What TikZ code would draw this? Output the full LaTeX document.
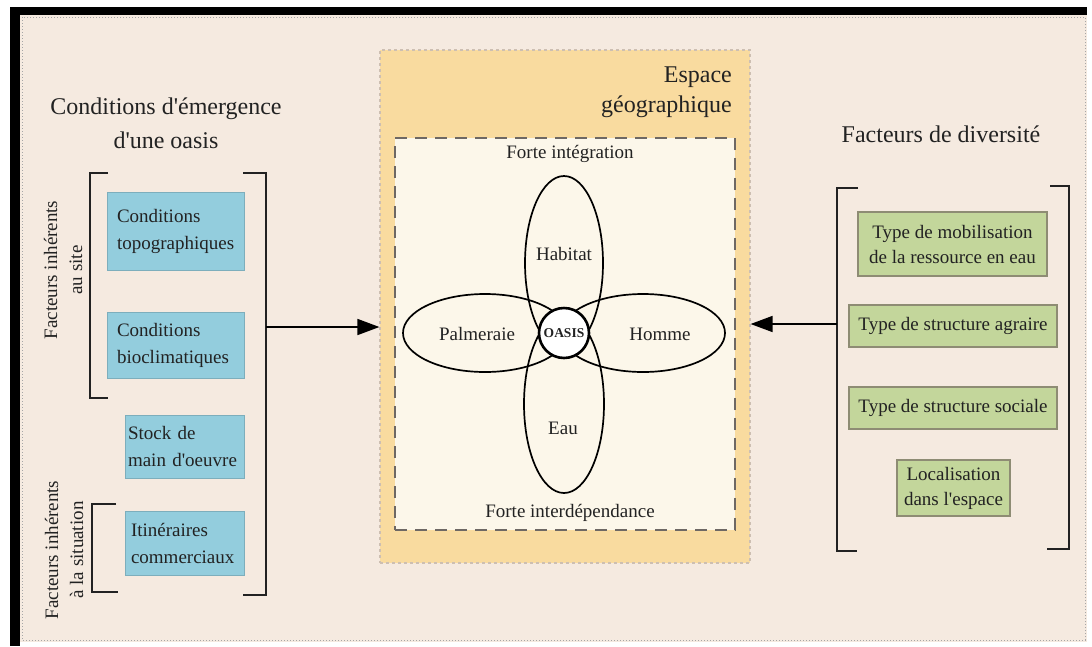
\documentclass[tikz,border=0pt]{standalone}
\usepackage{fontspec}
\setmainfont{Liberation Serif}[Ligatures=TeXOff]
\usetikzlibrary{arrows.meta,shapes.geometric}
\definecolor{beige}{HTML}{F5EAE0}
\definecolor{yel}{HTML}{F9DB9F}
\definecolor{cream}{HTML}{FCF7EA}
\definecolor{blu}{HTML}{93CDDD}
\definecolor{grn}{HTML}{C3D69B}
\definecolor{grnline}{HTML}{8E8C74}
\definecolor{ink}{HTML}{222222}
\definecolor{dashdark}{HTML}{6E6864}
\definecolor{dashlight}{HTML}{CDBFB2}
\begin{document}
\begin{tikzpicture}[x=1pt,y=-1pt,
  every node/.style={text=ink},
  title/.style={font=\fontsize{24}{34}\selectfont, align=center, inner sep=0pt},
  lbl/.style={font=\fontsize{19}{25}\selectfont, inner sep=0pt},
  bluebox/.style={fill=blu, draw=blu!85!black, line width=0.5pt, font=\fontsize{19}{27}\selectfont, align=left, inner ysep=0pt},
  grnbox/.style={fill=grn, draw=grnline, line width=1.8pt, font=\fontsize{19}{25}\selectfont, align=center, inner sep=0pt},
  brk/.style={draw=ink, line width=2pt},
  ell/.style={draw=black, line width=1.7pt, ellipse, inner sep=0pt},
  arr/.style={draw=black, line width=1.6pt, -{Triangle[length=22pt,width=16pt]}}
]
\useasboundingbox (0,0) rectangle (1092,646);
% frame
\fill[white] (0,0) rectangle (1092,646);
\fill[black] (10,7) rectangle (1087,15);
\fill[black] (10,7) rectangle (20,646);
\fill[beige] (20,15) rectangle (1087,642);
\draw[gray!70, line width=1pt, dotted] (22,17) rectangle (1085,640);

% central yellow box
\node[draw=dashlight, dashed, line width=1.2pt, fill=yel, minimum width=370pt, minimum height=513pt, inner sep=0pt] (espace) at (565,306.5) {};
\node[font=\fontsize{24}{30}\selectfont, align=right, anchor=north east, inner sep=0pt] (espt) at (732,67) {Espace\\géographique};
\node[draw=dashdark, dash pattern=on 12pt off 8pt, line width=2.2pt, fill=cream, minimum width=340pt, minimum height=392pt, inner sep=0pt] (inner) at (565,334) {};
\node[lbl] (integ) at (570,154) {Forte intégration};
\node[lbl] (interd) at (570,513) {Forte interdépendance};

% ellipses
\node[ell, minimum width=78pt, minimum height=174pt] (habE) at (564,263) {};
\node[ell, minimum width=80pt, minimum height=178pt] (eauE) at (564,404) {};
\node[ell, minimum width=164pt, minimum height=78pt] (palE) at (485,333) {};
\node[ell, minimum width=164pt, minimum height=78pt] (homE) at (643,333) {};
\node[lbl] (hab) at (564,254) {Habitat};
\node[lbl] (eau) at (563,428) {Eau};
\node[lbl] (pal) at (477,334) {Palmeraie};
\node[lbl] (hom) at (660,334) {Homme};
\node[circle, draw=black, fill=white, line width=2.6pt, minimum size=50pt, inner sep=0pt, font=\bfseries\fontsize{13.5}{14}\selectfont] (oasis) at (564,333) {OASIS};

% left side
\node[title] (ltitle) at (166,123) {Conditions d'émergence\\d'une oasis};
\node[bluebox, text width=117pt, inner xsep=10pt, minimum height=78pt] (topo) at (175.5,231) {Conditions\\topographiques};
\node[bluebox, text width=117pt, inner xsep=10pt, minimum height=66pt] (bio) at (175.5,345) {Conditions\\bioclimatiques};
\node[bluebox, text width=113pt, inner xsep=3pt, minimum height=63pt] (stock) at (184.5,446.5) {Stock de\\main d'oeuvre};
\node[bluebox, text width=107pt, inner xsep=6pt, minimum height=64pt] (itin) at (184.5,543) {Itinéraires\\commerciaux};
\node[lbl, rotate=90, align=center] (fsite) at (63,270) {Facteurs inhérents\\au site};
\node[lbl, rotate=90, align=center] (fsit) at (64,550) {Facteurs inhérents\\à la situation};

% left brackets
\draw[brk] (108,173) -- (90,173) -- (90,398) -- (108,398);
\draw[brk] (116,504) -- (92,504) -- (92,592) -- (118,592);
\draw[brk] (243,173) -- (266,173) -- (266,595) -- (243,595);
\coordinate (lfrom) at (266,327);
\draw[arr] (lfrom) -- (espace.west |- lfrom);

% right side
\node[title] (rtitle) at (941,134) {Facteurs de diversité};
\node[grnbox, minimum width=189pt, minimum height=64pt] (mob) at (952.5,244) {\raisebox{-2pt}{\parbox{185pt}{\centering Type de mobilisation\\de la ressource en eau}}};
\node[grnbox, minimum width=208pt, minimum height=42pt] (agr) at (953,326) {Type de structure agraire};
\node[grnbox, minimum width=208pt, minimum height=42pt] (soc) at (953,408) {Type de structure sociale};
\node[grnbox, minimum width=113pt, minimum height=56pt] (loc) at (953.5,488) {Localisation\\dans l'espace};

\draw[brk] (858,188) -- (837,188) -- (837,551) -- (857,551);
\draw[brk] (1050,186) -- (1069,186) -- (1069,549) -- (1047,549);
\coordinate (rfrom) at (837,324);
\draw[arr] (rfrom) -- (espace.east |- rfrom);
\end{tikzpicture}
\end{document}
